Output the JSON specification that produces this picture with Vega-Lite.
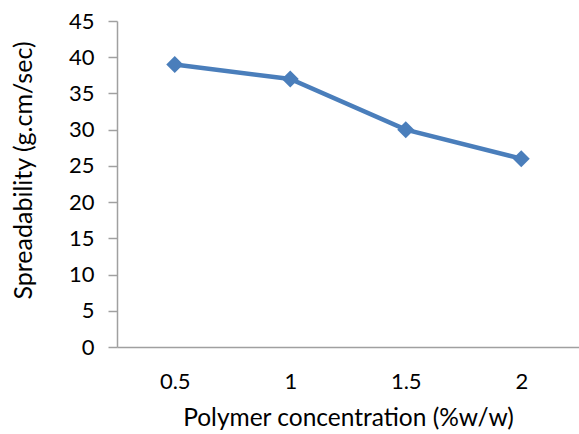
{
  "$schema": "https://vega.github.io/schema/vega-lite/v6.json",
  "width": 462,
  "height": 326,
  "autosize": "none",
  "padding": {"left": 117, "top": 21, "right": 0, "bottom": 87},
  "background": "white",
  "config": {"view": {"stroke": null}, "font": "Lato"},
  "data": {"values": [
    {"conc": "0.5", "spread": 39},
    {"conc": "1", "spread": 37},
    {"conc": "1.5", "spread": 30},
    {"conc": "2", "spread": 26}
  ]},
  "mark": {"type": "line", "color": "#4a7ebb", "strokeWidth": 4.5, "point": {"shape": "diamond", "size": 290, "filled": true, "color": "#4a7ebb"}},
  "encoding": {
    "x": {"field": "conc", "type": "ordinal", "sort": null,
      "scale": {"type": "point", "padding": 0.5},
      "axis": {"title": "Polymer concentration (%w/w)", "labelAngle": 0, "ticks": false, "grid": false,
        "domainColor": "#a0a0a0", "domainWidth": 1.5, "labelFontSize": 22, "labelColor": "#000", "labelPadding": 24,
        "titleFontSize": 24.5, "titleFontWeight": "normal", "titleColor": "#000", "titlePadding": 14}},
    "y": {"field": "spread", "type": "quantitative",
      "scale": {"domain": [0, 45], "nice": false},
      "axis": {"title": "Spreadability (g.cm/sec)", "values": [0,5,10,15,20,25,30,35,40,45], "grid": false,
        "domainColor": "#a0a0a0", "domainWidth": 1.5, "tickColor": "#a0a0a0", "tickSize": 9, "tickWidth": 1.5,
        "labelFontSize": 22, "labelColor": "#000", "labelPadding": 14,
        "titleFontSize": 25, "titleFontWeight": "normal", "titleColor": "#000", "titlePadding": 32, "titleY": 149}}
  }
}
